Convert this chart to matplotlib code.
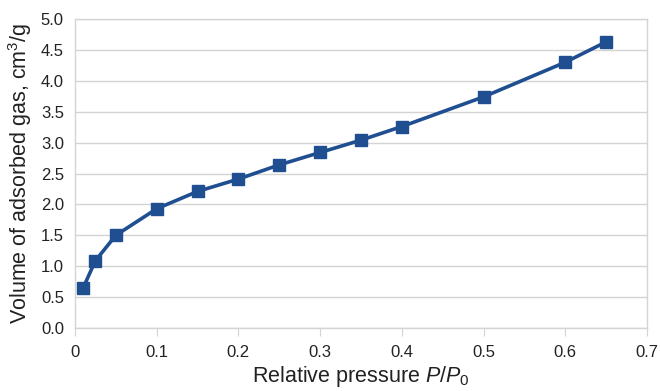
import matplotlib
matplotlib.use("Agg")
import matplotlib.pyplot as plt
from matplotlib import font_manager

pressure = [0.01, 0.025, 0.05, 0.1, 0.15, 0.2, 0.25, 0.3, 0.35, 0.4, 0.5, 0.6, 0.65]
volume = [0.65, 1.09, 1.50, 1.93, 2.21, 2.41, 2.64, 2.84, 3.04, 3.26, 3.74, 4.30, 4.63]
xticks = [0, 0.1, 0.2, 0.3, 0.4, 0.5, 0.6, 0.7]
xticklabels = ["0", "0.1", "0.2", "0.3", "0.4", "0.5", "0.6", "0.7"]
yticks = [0.0, 0.5, 1.0, 1.5, 2.0, 2.5, 3.0, 3.5, 4.0, 4.5, 5.0]
yticklabels = ["%.1f" % v for v in yticks]

names = {f.name for f in font_manager.fontManager.ttflist}
tick_font = "Liberation Sans Narrow" if "Liberation Sans Narrow" in names else "Liberation Sans"

plt.rcParams['font.family'] = ['Liberation Sans', 'DejaVu Sans']
plt.rcParams['mathtext.fontset'] = 'custom'
plt.rcParams['mathtext.rm'] = 'Liberation Sans'
plt.rcParams['mathtext.it'] = 'Liberation Sans:italic'

fig = plt.figure(figsize=(6.6, 3.91), dpi=100)
ax = fig.add_axes([75/660, 1-328/391, (647-75)/660, (328-19)/391])

color = '#1f4e91'
ax.plot(pressure, volume, color=color, lw=2.6, marker='s', markersize=8.5,
        markerfacecolor=color, markeredgecolor=color, zorder=3, clip_on=False)

ax.set_xlim(0, 0.7)
ax.set_ylim(0, 5.0)
ax.set_xticks(xticks)
ax.set_xticklabels(xticklabels, fontfamily=tick_font, fontsize=12)
ax.set_yticks(yticks)
ax.set_yticklabels(yticklabels, fontfamily=tick_font, fontsize=12)

ax.grid(axis='y', color='#d4d4d4', lw=1)
ax.set_axisbelow(True)
for s in ['left', 'right', 'top', 'bottom']:
    ax.spines[s].set_color('#d4d4d4')
    ax.spines[s].set_linewidth(1)
ax.tick_params(axis='x', direction='out', length=6, color='#d4d4d4', pad=6, labelcolor='#222222')
ax.tick_params(axis='y', length=0, pad=8, labelcolor='#222222')

ax.set_ylabel(r"Volume of adsorbed gas, cm$^3$/g", fontsize=15.5, color='#222222', labelpad=5)
ax.set_xlabel(r"Relative pressure $P/P_{\rm 0}$", fontsize=15.5, color='#222222', labelpad=3)

fig.savefig("out.png", dpi=100)
